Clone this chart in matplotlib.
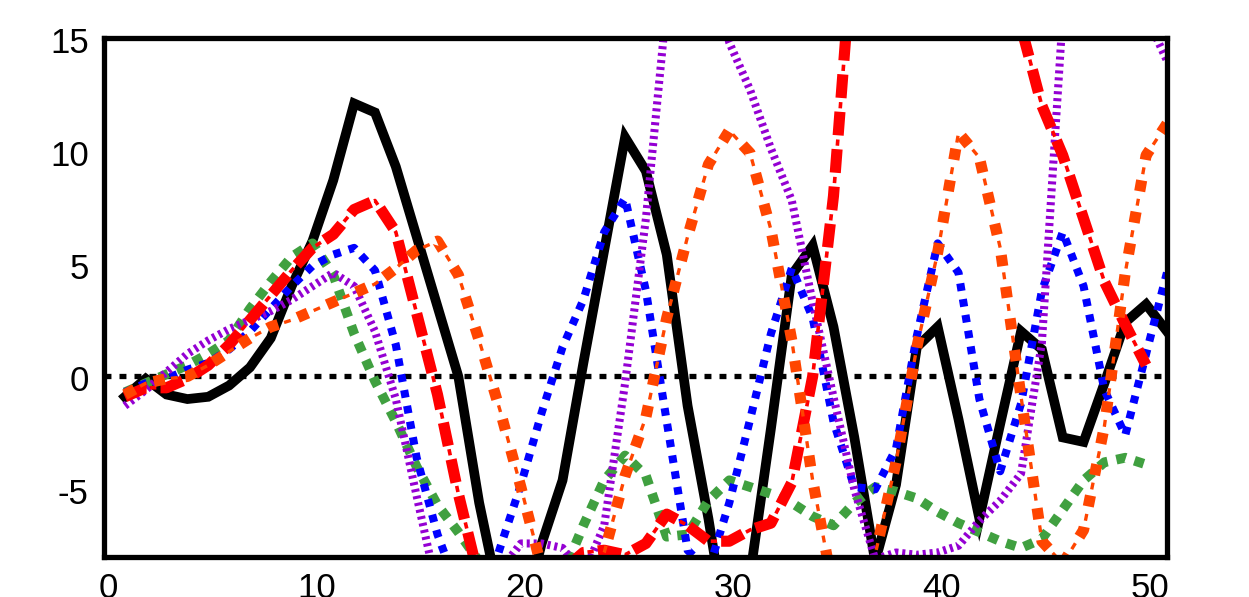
import numpy as np
import matplotlib
matplotlib.use("Agg")
import matplotlib.pyplot as plt
from matplotlib.transforms import ScaledTranslation

plt.rcParams['font.family'] = ['Liberation Sans', 'DejaVu Sans']
plt.rcParams['lines.scale_dashes'] = False   # dash lengths in points
plt.rcParams['axes.unicode_minus'] = False

x = np.arange(1, 52)

black = [-0.9, -0.1, -0.8, -1.0, -0.9, -0.4, 0.4, 1.7, 4.0, 6.0,
         8.7, 12.1, 11.7, 9.3, 6.2, 3.1, 0.0, -5.6, -10.0, -11.0,
         -7.4, -4.6, 0.6, 5.6, 10.6, 9.1, 5.4, -1.3, -6.3, -12.0,
         -8.8, -2.3, 4.5, 5.8, 2.2, -2.7, -8.2, -4.8, 1.3, 2.2,
         -1.9, -6.3, -2.1, 2.0, 1.2, -2.7, -2.9, -0.3, 2.4, 3.2, 2.0]

red = [-0.9, -0.5, -0.5, -0.1, 0.5, 1.4, 2.5, 3.6, 4.7, 5.7,
       6.3, 7.4, 7.8, 6.4, 2.8, -0.8, -5.2, -9.0, -11.0, -11.0,
       -10.0, -8.6, -7.8, -7.7, -7.9, -7.4, -6.1, -6.6, -7.3, -7.3,
       -6.8, -6.5, -4.7, 0.0, 8.0, 20.0, 25.0, 27.0, 27.0, 25.0,
       22.0, 20.0, 17.5, 15.5, 12.0, 9.8, 7.0, 4.2, 2.3, 0.5]

blue = [-0.7, -0.3, -0.1, 0.3, 0.6, 1.2, 2.0, 3.0, 4.0, 4.9,
        5.4, 5.7, 4.7, 1.4, -3.6, -7.0, -9.5, -10.5, -7.6, -4.8,
        -1.6, 1.3, 3.4, 6.4, 7.9, 3.8, -2.0, -7.7, -8.6, -5.6,
        -1.9, 1.9, 4.8, 2.6, -2.0, -4.9, -5.0, -3.2, 1.8, 5.9,
        4.6, -1.0, -4.2, -1.2, 3.8, 6.4, 4.0, -0.6, -2.6, 1.0, 4.6]

green = [-0.7, -0.3, 0.1, 0.5, 1.0, 1.6, 3.0, 4.2, 5.3, 5.9,
         4.5, 1.9, -0.2, -2.0, -4.0, -5.7, -6.9, -8.2, -9.5, -10.0,
         -9.5, -8.8, -6.6, -4.6, -3.5, -4.4, -7.1, -7.0, -5.5, -4.6,
         -4.9, -5.2, -5.6, -6.2, -6.6, -5.6, -4.9, -5.1, -5.4, -6.0,
         -6.5, -6.9, -7.3, -7.6, -7.2, -5.9, -4.6, -3.8, -3.6, -3.9]

purple = [-1.3, -0.6, 0.2, 1.0, 1.6, 2.1, 2.5, 2.9, 3.4, 4.0,
          4.6, 4.0, 2.0, -1.0, -5.3, -9.5, -11.0, -11.0, -8.6, -7.4,
          -7.4, -7.6, -8.8, -6.6, -0.3, 7.0, 16.5, 22.0, 19.0, 14.8,
          12.7, 10.1, 7.8, 3.3, -0.9, -5.0, -8.1, -7.8, -7.9, -7.8,
          -7.5, -6.4, -5.5, -4.3, 1.5, 16.0, 22.0, 22.0, 19.0, 16.0, 14.0]

orange = [-0.8, -0.3, -0.1, 0.0, 0.5, 1.1, 1.7, 2.2, 2.5, 2.9,
          3.3, 3.7, 4.1, 4.8, 5.6, 6.0, 4.5, 1.6, -1.5, -4.9,
          -8.5, -11.0, -10.0, -7.8, -4.4, -1.8, 2.6, 6.2, 9.4, 10.9,
          9.9, 6.5, 1.6, -4.6, -9.5, -12.0, -7.9, -3.8, 1.3, 5.5,
          10.8, 9.7, 5.7, -0.9, -7.3, -8.3, -6.8, -2.2, 4.6, 9.8, 11.2]

xticks = [0, 10, 20, 30, 40, 50]
yticks = [-5, 0, 5, 10, 15]

fig = plt.figure(figsize=(12.49, 5.97), dpi=100)
ax = fig.add_axes([0.0833, 0.067, 0.851, 0.8693])

ax.axhline(0, color='black', lw=3.8, linestyle=(0, (5, 5.8)), zorder=1.5)

ax.plot(x, black, color='black', lw=7.0, solid_joinstyle='miter', zorder=2)
ax.plot(x[:len(green)], green, color='#40a040', lw=7.0,
        linestyle=(0, (7, 6.5)), zorder=3)
ax.plot(x, blue, color='blue', lw=5.8, linestyle=(0, (5.5, 6)), zorder=4)
ax.plot(x, purple, color='#9400d3', lw=5.8, linestyle=(0, (2.2, 2.8)), zorder=5)

# red dash-dot: thick dash + thin dash in the gap
ax.plot(x[:len(red)], red, color='red', lw=8.0, linestyle=(0, (17, 10)), zorder=6)
ax.plot(x[:len(red)], red, color='red', lw=2.6, linestyle=(7.5, (4.5, 22.5)), zorder=6)

# orange: square dot + thin dash
ax.plot(x, orange, color='#ff4500', lw=8.0, linestyle=(0, (8, 15)), zorder=7)
ax.plot(x, orange, color='#ff4500', lw=2.4, linestyle=(10.5, (5, 18)), zorder=7)

ax.set_xlim(0, 51)
ax.set_ylim(-8, 15)
ax.set_xticks(xticks)
ax.set_yticks(yticks)
ax.tick_params(length=0, labelsize=25)
ax.tick_params(axis='y', pad=11)
ax.tick_params(axis='x', pad=11)

# labels in the reference sit a few pixels right / lower
for lab in ax.get_xticklabels():
    lab.set_transform(lab.get_transform() + ScaledTranslation(0.04, 0, fig.dpi_scale_trans))
for lab in ax.get_yticklabels():
    lab.set_transform(lab.get_transform() + ScaledTranslation(0, -0.02, fig.dpi_scale_trans))

for s in ax.spines.values():
    s.set_linewidth(3.8)
    s.set_zorder(10)

fig.savefig('out.png', dpi=100)
